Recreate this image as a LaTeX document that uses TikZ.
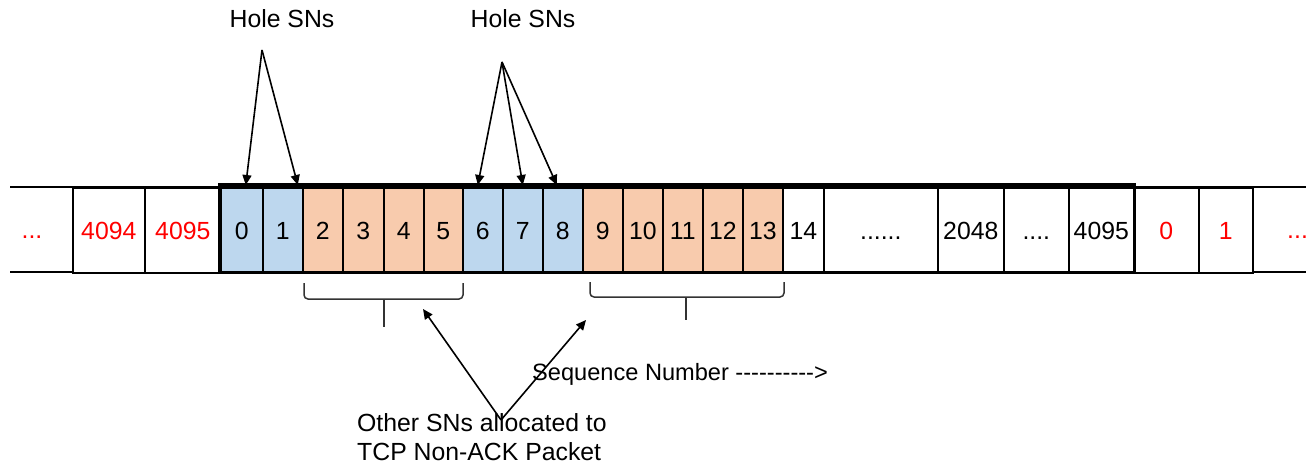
\documentclass[tikz,border=0pt]{standalone}
\usepackage{fontspec}
\setmainfont{Liberation Sans}
\usetikzlibrary{arrows.meta,calc}
\definecolor{holeblue}{HTML}{BDD7EE}
\definecolor{pktorange}{HTML}{F8CBAD}
\newcommand\dsh{-\kern0pt}
\begin{document}
\begin{tikzpicture}[x=1pt,y=-1pt,
  every node/.style={font=\fontsize{24.8}{29}\selectfont, inner sep=0pt},
  cell/.style={draw, line width=1.6pt, minimum height=85pt, text height=17.8pt, text depth=0pt, anchor=north west},
  hole/.style={cell, fill=holeblue},
  pkt/.style={cell, fill=pktorange},
  plain/.style={cell, fill=white},
  redcell/.style={cell, fill=white, text=red},
  arr/.style={line width=1.6pt, -{Triangle[length=10pt,width=9pt]}},
  framebox/.style={line width=3.5pt},
  brace/.style={line width=1.5pt, draw=black!80, rounded corners=4pt},
]
\clip (0,0) rectangle (1306,465);
\fill[white] (0,0) rectangle (1306,465);
% outer thin lines
\draw[line width=1.6pt] (10,187) -- (1306,187);
\draw[line width=1.6pt] (10,272) -- (1306,272);
% cells
\node[red, anchor=base] (ldots) at (32,238) {...};
\node[redcell, minimum width=72pt] (l4094) at (72,187) {4094};
\node[redcell, minimum width=76pt] (l4095) at (144,187) {4095};
\node[hole, minimum width=42pt] (c0) at (220,187) {0};
\node[hole, minimum width=40pt] (c1) at (262,187) {1};
\node[pkt, minimum width=40pt] (c2) at (302,187) {2};
\node[pkt, minimum width=41pt] (c3) at (342,187) {3};
\node[pkt, minimum width=40pt] (c4) at (383,187) {4};
\node[pkt, minimum width=39pt] (c5) at (423,187) {5};
\node[hole, minimum width=40pt] (c6) at (462,187) {6};
\node[hole, minimum width=40pt] (c7) at (502,187) {7};
\node[hole, minimum width=40pt] (c8) at (542,187) {8};
\node[pkt, minimum width=40pt] (c9) at (582,187) {9};
\node[pkt, minimum width=40pt] (c10) at (622,187) {10};
\node[pkt, minimum width=40pt] (c11) at (662,187) {11};
\node[pkt, minimum width=40pt] (c12) at (702,187) {12};
\node[pkt, minimum width=40pt] (c13) at (742,187) {13};
\node[plain, minimum width=41pt] (c14) at (782,187) {14};
\node[plain, minimum width=114pt] (cdots) at (823,187) {......};
\node[plain, minimum width=66pt] (c2048) at (937,187) {2048};
\node[plain, minimum width=65pt] (cdots2) at (1003,187) {....};
\node[plain, minimum width=65pt] (c4095) at (1068,187) {4095};
\node[redcell, minimum width=65pt] (r0) at (1133,187) {0};
\node[redcell, minimum width=54pt] (r1) at (1198,187) {1};
\node[red, anchor=base west] (rdots) at (1287,238) {....};
% thick frame
\draw[framebox] ($(c0.north west)+(0,-2)$) rectangle ($(c4095.south east)+(0,-1)$);
% hole SNs labels and arrows
\node[anchor=base] (hole1) at (282,28) {Hole SNs};
\node[anchor=base] (hole2) at (523,28) {Hole SNs};
\coordinate (h1) at (262,50);
\coordinate (h2) at (502,62);
\draw[arr] (h1) -- ([xshift=4pt,yshift=2pt]c0.north);
\draw[arr] (h1) -- ([xshift=15pt,yshift=2pt]c1.north);
\draw[arr] (h2) -- ([xshift=-5pt,yshift=2pt]c6.north);
\draw[arr] (h2) -- ([yshift=2pt]c7.north);
\draw[arr] (h2) -- ([xshift=-6pt,yshift=2pt]c8.north);
% brackets
\draw[brace] (304,283) -- (304,299) -- (463,299) -- (463,283);
\draw[line width=1.5pt, draw=black!80] (384,299) -- (384,327);
\draw[brace] (590,282) -- (590,297) -- (784,297) -- (784,282);
\draw[line width=1.5pt, draw=black!80] (686,297) -- (686,320);
% bottom labels
\node[anchor=base west, font=\fontsize{23.6}{29}\selectfont] (seq) at (532,380) {Sequence Number \dsh\dsh\dsh\dsh\dsh\dsh\dsh\dsh\dsh\dsh>};
\node[anchor=north west, align=left] (other) at (357,413) {Other SNs allocated to\\TCP Non-ACK Packet};
\coordinate (oa) at (501,420);
\coordinate (t1) at (423,309);
\coordinate (t2) at (586,320);
\draw[arr] (oa) -- (t1);
\draw[arr] (oa) -- (t2);
\end{tikzpicture}
\end{document}
